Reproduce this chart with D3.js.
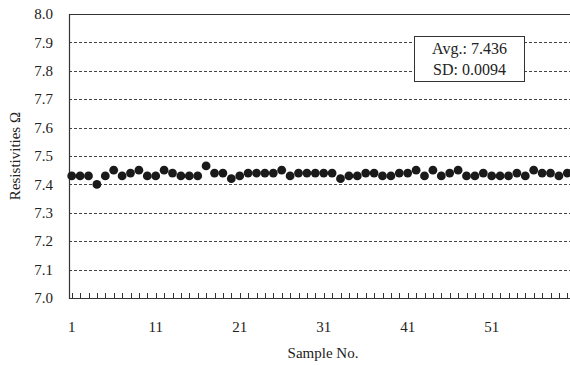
<!DOCTYPE html>
<html>
<head>
<meta charset="utf-8">
<script src="https://cdn.jsdelivr.net/npm/d3@7"></script>
<style>
  html, body { margin: 0; padding: 0; background: #fff; overflow: hidden; }
  svg { display: block; }
</style>
</head>
<body>
<svg id="chart"></svg>
<script>
// resistivity per sample
const sampleNo = d3.range(1, 61);
const resistivity = [
  7.43, 7.43, 7.43, 7.40, 7.43, 7.45, 7.43, 7.44, 7.45, 7.43,
  7.43, 7.45, 7.44, 7.43, 7.43, 7.43, 7.465, 7.44, 7.44, 7.42,
  7.43, 7.44, 7.44, 7.44, 7.44, 7.45, 7.43, 7.44, 7.44, 7.44,
  7.44, 7.44, 7.42, 7.43, 7.43, 7.44, 7.44, 7.43, 7.43, 7.44,
  7.44, 7.45, 7.43, 7.45, 7.43, 7.44, 7.45, 7.43, 7.43, 7.44,
  7.43, 7.43, 7.43, 7.44, 7.43, 7.45, 7.44, 7.44, 7.43, 7.44
];
const yTicks = [7.0, 7.1, 7.2, 7.3, 7.4, 7.5, 7.6, 7.7, 7.8, 7.9, 8.0];
const xLabels = [1, 11, 21, 31, 41, 51];
const statLines = ["Avg.: 7.436", "SD: 0.0094"];

const W = 570, H = 365;
const plotL = 69, plotT = 14, plotB = 298, plotR = 570;
const font = "'Liberation Serif', 'Times New Roman', serif";
const ink = "#222";

const svg = d3.select("#chart")
    .attr("width", W)
    .attr("height", H)
    .attr("font-family", font);

const x = d3.scaleLinear().domain([1, 61]).range([71.7, 575.7]);
const y = d3.scaleLinear().domain([7.0, 8.0]).range([plotB, plotT]);

// dashed gridlines
svg.append("g")
    .attr("stroke", "#444")
    .attr("stroke-width", 1)
    .attr("stroke-dasharray", "3,2")
  .selectAll("line")
  .data(yTicks.filter(d => d > 7.0 && d < 8.0))
  .join("line")
    .attr("x1", plotL).attr("x2", plotR)
    .attr("y1", d => Math.round(y(d)) + 0.5)
    .attr("y2", d => Math.round(y(d)) + 0.5);

// frame: top, left, bottom
svg.append("path")
    .attr("fill", "none")
    .attr("stroke", "#333")
    .attr("stroke-width", 1.2)
    .attr("d", `M${plotR},${plotT + 0.5}H${plotL + 0.5}V${plotB + 0.5}H${plotR}`);

// minor ticks on the x axis, one per sample
svg.append("g")
    .attr("stroke", "#333")
  .selectAll("line")
  .data(sampleNo)
  .join("line")
    .attr("x1", d => Math.round(x(d)) + 0.5)
    .attr("x2", d => Math.round(x(d)) + 0.5)
    .attr("y1", plotB - 5)
    .attr("y2", plotB);

// y tick labels
svg.append("g")
    .attr("font-size", 15)
    .attr("fill", ink)
    .attr("text-anchor", "end")
  .selectAll("text")
  .data(yTicks)
  .join("text")
    .attr("x", 53)
    .attr("y", d => y(d))
    .attr("dy", "0.35em")
    .text(d => d.toFixed(1));

// x tick labels
svg.append("g")
    .attr("font-size", 15)
    .attr("fill", ink)
    .attr("text-anchor", "middle")
  .selectAll("text")
  .data(xLabels)
  .join("text")
    .attr("x", d => x(d))
    .attr("y", 332)
    .text(d => d);

// axis titles
svg.append("text")
    .attr("x", 323)
    .attr("y", 358)
    .attr("text-anchor", "middle")
    .attr("font-size", 15)
    .attr("fill", ink)
    .text("Sample No.");

svg.append("text")
    .attr("transform", "translate(20,156) rotate(-90)")
    .attr("text-anchor", "middle")
    .attr("font-size", 15)
    .attr("fill", ink)
    .text("Resistivities Ω");

// points
svg.append("g")
    .attr("fill", "#1a1a1a")
  .selectAll("circle")
  .data(resistivity)
  .join("circle")
    .attr("cx", (d, i) => x(sampleNo[i]))
    .attr("cy", d => y(d))
    .attr("r", 4.4);

// stats box
const box = svg.append("g").attr("transform", "translate(414.5,36.5)");
box.append("rect")
    .attr("width", 110)
    .attr("height", 45)
    .attr("fill", "#fff")
    .attr("stroke", "#333");
box.selectAll("text")
  .data(statLines)
  .join("text")
    .attr("x", 55)
    .attr("y", (d, i) => 17 + i * 21)
    .attr("text-anchor", "middle")
    .attr("font-size", 16)
    .attr("fill", ink)
    .text(d => d);
</script>
</body>
</html>
